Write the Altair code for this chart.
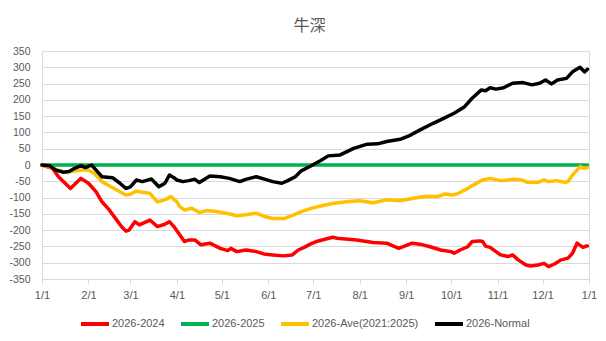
import altair as alt
import pandas as pd

series_names = ["2026-2024", "2026-2025", "2026-Ave(2021:2025)", "2026-Normal"]
series_colors = ["#FF0000", "#00B050", "#FFC000", "#000000"]

red_days = [0,7,11,19,26,31,36,40,44,49,53,56,58,62,65,72,77,82,85,88,92,95,98,102,106,112,119,124,126,130,136,143,148,154,161,167,171,175,179,183,194,197,210,221,230,238,247,252,259,266,273,275,279,284,287,292,294,296,299,306,311,314,318,323,326,331,335,338,342,346,351,354,357,361,363,364]
red_vals = [0,-10,-36,-72,-41,-56,-82,-113,-133,-164,-189,-203,-200,-174,-184,-169,-189,-182,-174,-189,-215,-235,-230,-230,-245,-240,-256,-263,-256,-266,-261,-266,-273,-276,-279,-276,-261,-253,-243,-235,-222,-225,-230,-238,-240,-256,-240,-243,-251,-261,-266,-271,-261,-251,-235,-233,-235,-249,-253,-276,-281,-276,-292,-307,-310,-307,-302,-312,-304,-292,-286,-271,-240,-253,-249,-249]

green_days = [0, 364]
green_vals = [0, 0]

yellow_days = [0,7,10,16,23,27,31,35,40,46,52,56,59,63,67,72,77,82,86,90,92,95,100,105,110,116,123,130,136,143,149,154,162,168,173,179,186,194,203,212,221,230,239,248,255,264,269,274,278,284,288,294,299,306,311,315,320,324,331,335,338,343,349,351,354,359,362,364]
yellow_vals = [0,-8,-15,-22,-18,-15,-15,-26,-51,-67,-82,-92,-90,-80,-84,-87,-113,-107,-97,-113,-128,-138,-133,-146,-140,-143,-148,-156,-153,-148,-159,-164,-164,-153,-143,-134,-126,-118,-113,-110,-116,-107,-110,-102,-97,-97,-89,-92,-87,-72,-61,-46,-41,-48,-46,-44,-46,-53,-53,-46,-51,-48,-53,-51,-31,-5,-10,-8]

black_days = [0,5,9,14,18,21,26,29,33,36,40,47,52,56,59,63,67,73,78,82,85,88,90,94,98,102,105,112,119,125,132,136,143,149,154,160,164,169,173,179,186,191,199,208,217,224,230,239,246,252,261,268,275,282,287,293,296,299,303,308,314,321,327,332,336,340,344,350,354,359,362,364]
black_vals = [0,-2,-15,-22,-20,-12,-2,-8,0,-15,-36,-39,-56,-72,-67,-46,-51,-43,-67,-56,-31,-39,-46,-51,-48,-44,-54,-34,-36,-41,-51,-44,-36,-44,-51,-56,-48,-36,-18,-4,14,28,31,51,64,65,72,79,92,107,128,143,159,179,205,230,228,237,233,237,251,253,246,251,261,249,261,266,286,300,286,294]

y_ticks = list(range(-350, 351, 50))

start = pd.Timestamp("2026-01-01")
frames = []
for name, days, vals in [
    (series_names[0], red_days, red_vals),
    (series_names[1], green_days, green_vals),
    (series_names[2], yellow_days, yellow_vals),
    (series_names[3], black_days, black_vals),
]:
    frames.append(pd.DataFrame({
        "date": [(start + pd.Timedelta(days=d)).strftime("%Y-%m-%d") for d in days],
        "value": vals,
        "series": name,
    }))
df = pd.concat(frames, ignore_index=True)

month_ticks = [alt.DateTime(year=2026, month=m, date=1, utc=True) for m in range(1, 13)]
month_ticks.append(alt.DateTime(year=2027, month=1, date=1, utc=True))

FONT = "Liberation Sans"
GRAY = "#595959"

chart = alt.Chart(df).mark_line(strokeWidth=3.5, strokeJoin="round", strokeCap="round").encode(
    x=alt.X("date:T",
            scale=alt.Scale(type="utc",
                            domain=[alt.DateTime(year=2026, month=1, date=1, utc=True),
                                    alt.DateTime(year=2027, month=1, date=1, utc=True)]),
            axis=alt.Axis(values=month_ticks, format="%-m/%-d", title=None, grid=False,
                          domainColor="#D9D9D9", tickColor="#D9D9D9", tickSize=5,
                          labelFont=FONT, labelFontSize=11, labelColor=GRAY,
                          labelPadding=5, labelFlush=False)),
    y=alt.Y("value:Q",
            scale=alt.Scale(domain=[-350, 350], nice=False, zero=False),
            axis=alt.Axis(values=y_ticks, title=None, domain=False, ticks=False,
                          gridColor="#D9D9D9", gridWidth=1,
                          labelExpr="'' + datum.value",
                          labelFont=FONT, labelFontSize=10.5, labelColor=GRAY,
                          labelPadding=12)),
    color=alt.Color("series:N",
                    scale=alt.Scale(domain=series_names, range=series_colors),
                    legend=alt.Legend(title=None, orient="none", direction="horizontal",
                                      legendX=37, legendY=257,
                                      symbolType="stroke", symbolSize=784,
                                      symbolStrokeWidth=4, labelOffset=1,
                                      columnPadding=8,
                                      labelFont=FONT, labelFontSize=11, labelColor=GRAY)),
).properties(
    width=547,
    height=228,
    padding={"left": 42, "top": 51, "right": 17, "bottom": 62},
    autosize=alt.AutoSizeParams(type="none"),
    title=alt.TitleParams("牛深", font="Noto Sans CJK JP", fontSize=16, fontWeight="normal",
                          color=GRAY, offset=12, dx=-6, anchor="middle", frame="group"),
).configure_view(stroke=None).configure(background="white")

chart.save("out.html", embed_options={"renderer": "svg", "actions": False})
